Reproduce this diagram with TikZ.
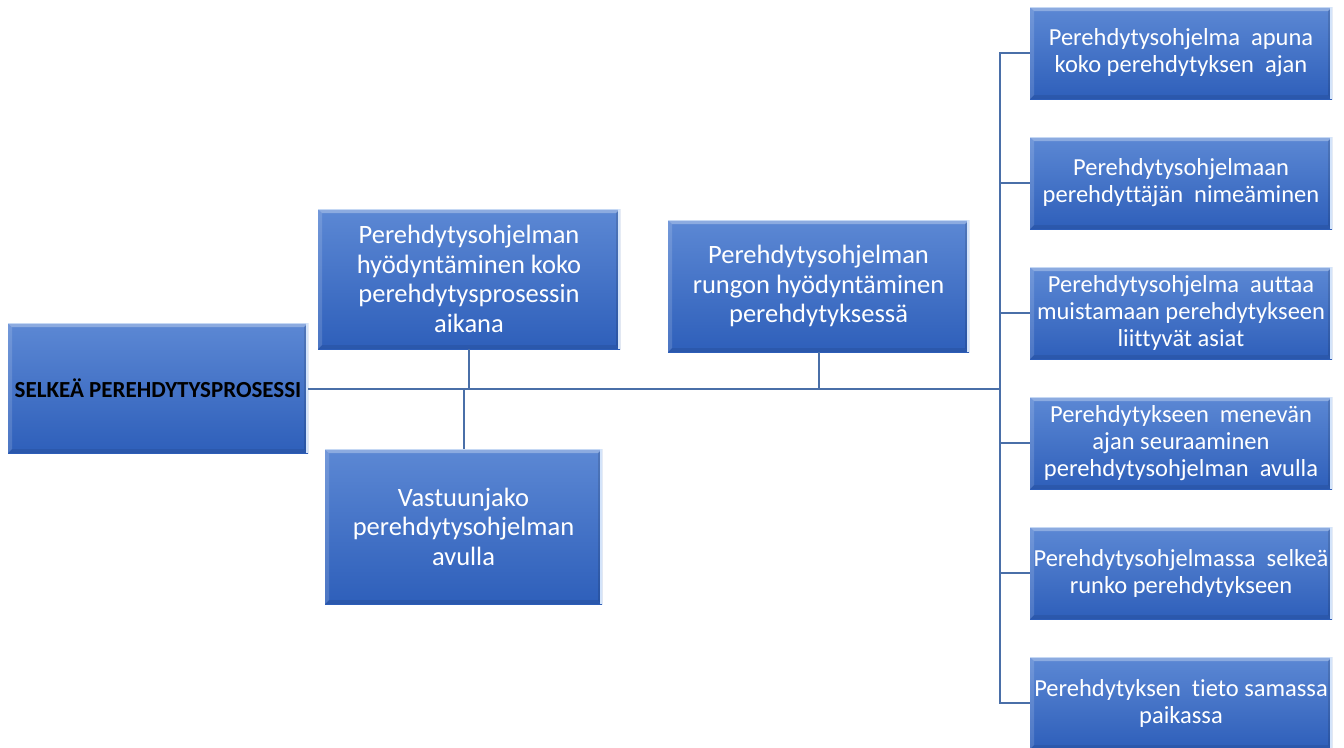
\documentclass[tikz,border=0pt]{standalone}
\usepackage{fontspec}
\setmainfont{Carlito}
\newfontfamily\boxfont[Ligatures=NoCommon]{Carlito}
\definecolor{boxtop}{HTML}{5C88D4}
\definecolor{boxbot}{HTML}{2E5FBA}
\definecolor{linkcol}{HTML}{4A6FA8}
\definecolor{edgelight}{HTML}{D4E4FA}
\tikzset{
  x=1pt, y=-1pt,
  box/.style={rectangle, inner sep=2pt, align=center, text=white,
    top color=boxtop, bottom color=boxbot, draw=none,
    path picture={
      % bevel: light top, light left, pale right rim, darker bottom
      \fill[white,opacity=.30] (path picture bounding box.north west) -- (path picture bounding box.north east)
        -- ([xshift=-4pt,yshift=-4pt]path picture bounding box.north east) -- ([xshift=4pt,yshift=-4pt]path picture bounding box.north west) -- cycle;
      \fill[white,opacity=.14] (path picture bounding box.north west) -- ([xshift=4pt,yshift=-4pt]path picture bounding box.north west)
        -- ([xshift=4pt,yshift=4pt]path picture bounding box.south west) -- (path picture bounding box.south west) -- cycle;
      \fill[black,opacity=.12] (path picture bounding box.north east) -- ([xshift=-4pt,yshift=-4pt]path picture bounding box.north east)
        -- ([xshift=-4pt,yshift=4pt]path picture bounding box.south east) -- (path picture bounding box.south east) -- cycle;
      \fill[black,opacity=.08] (path picture bounding box.south west) -- ([xshift=4pt,yshift=4pt]path picture bounding box.south west)
        -- ([xshift=-4pt,yshift=4pt]path picture bounding box.south east) -- (path picture bounding box.south east) -- cycle;
      \draw[edgelight,line width=2pt] ([xshift=-1pt]path picture bounding box.north east) -- ([xshift=-1pt]path picture bounding box.south east);
      \draw[edgelight,line width=1.2pt,opacity=.8] ([yshift=-0.6pt]path picture bounding box.north west) -- ([yshift=-0.6pt]path picture bounding box.north east);
    }},
  midbox/.style={box, font=\boxfont\fontsize{26.5}{29.5}\selectfont},
  sidebox/.style={box, font=\boxfont\fontsize{24.5}{27}\selectfont, minimum width=302pt, minimum height=92pt},
  link/.style={draw=linkcol, line width=2pt},
}
\begin{document}
\begin{tikzpicture}
\useasboundingbox[fill=white] (0,0) rectangle (1344,747);

% root
\node[box, minimum width=300pt, minimum height=130pt, text=black,
      font=\boxfont\bfseries\fontsize{23}{27}\selectfont] (root) at (158,388) {SELKEÄ PEREHDYTYSPROSESSI};

% boxes along the spine
\node[midbox, minimum width=302pt, minimum height=140pt] (a) at (469,279)
  {Perehdytysohjelman\\hyödyntäminen koko\\perehdytysprosessin\\aikana};
\node[midbox, minimum width=277pt, minimum height=155pt] (b) at (463.5,526.5)
  {Vastuunjako\\perehdytysohjelman\\avulla};
\node[midbox, minimum width=301pt, minimum height=132pt] (c) at (818.5,286)
  {Perehdytysohjelman\\rungon hyödyntäminen\\perehdytyksessä};

% column on the right
\node[sidebox] (r1) at (1181,53)  {Perehdytysohjelma\ \ apuna\\koko perehdytyksen\ \ ajan};
\node[sidebox] (r2) at (1181,183) {Perehdytysohjelmaan\\perehdyttäjän\ \ nimeäminen};
\node[sidebox] (r3) at (1181,313) {Perehdytysohjelma\ \ auttaa\\muistamaan perehdytykseen\\liittyvät asiat};
\node[sidebox] (r4) at (1181,443) {Perehdytykseen\ \ menevän\\ajan seuraaminen\\perehdytysohjelman\ \ avulla};
\node[sidebox] (r5) at (1181,573) {Perehdytysohjelmassa\ \ selkeä\\runko perehdytykseen};
\node[sidebox] (r6) at (1181,703) {Perehdytyksen\ \ tieto samassa\\paikassa};

% connectors
\coordinate (bus) at (1000,389);
\draw[link] (root.east |- bus) -- (bus);
\draw[link] (a.south) -- (a.south |- bus);
\draw[link] (b.north) -- (b.north |- bus);
\draw[link] (c.south) -- (c.south |- bus);
\draw[link] (r1.west) -| (bus) |- (r6.west);
\foreach \n in {r2,r3,r4,r5}
  \draw[link] (\n.west) -- (\n.west -| bus);
\end{tikzpicture}
\end{document}
